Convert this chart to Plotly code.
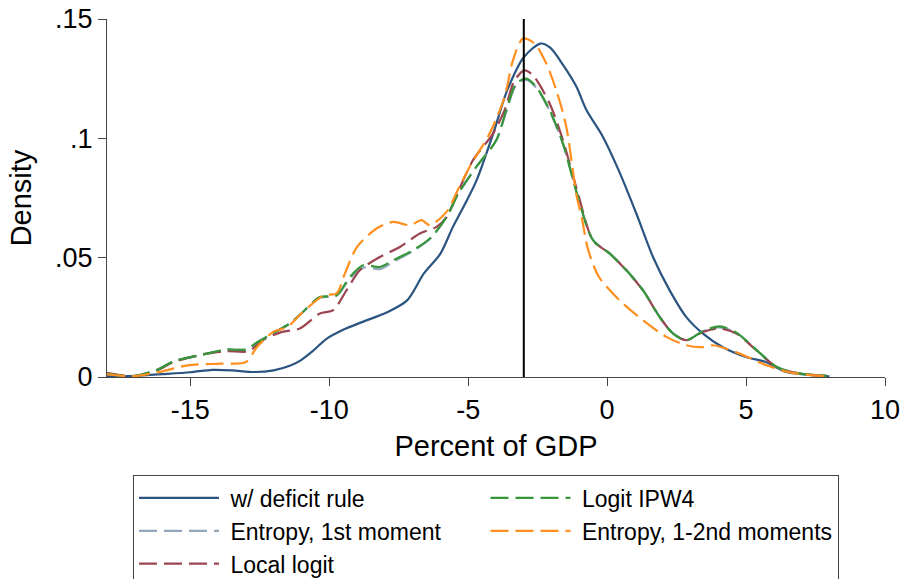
import plotly.graph_objects as go

# ---- data ----
ref_line_x = -3

blue_x = [-18, -17, -16, -15, -14.2, -13.5, -12.7, -12.0, -11.4, -11.0, -10.6, -10.1, -9.5, -8.8, -7.9, -7.2,
          -6.6, -6.0, -5.55, -5.05, -4.7, -4.1, -3.6, -3.0, -2.4, -2.05, -1.6, -1.1, -0.75, -0.15, 0.4, 1.05,
          1.65, 2.25, 2.85, 3.45, 4.15, 5.0, 5.7, 6.45, 7.4, 8.0]
blue_y = [0.0003, 0.0005, 0.0012, 0.002, 0.003, 0.0028, 0.0021, 0.0028, 0.0048, 0.0072, 0.0108, 0.0160, 0.0198,
          0.0231, 0.0272, 0.0321, 0.0433, 0.0517, 0.0629, 0.074, 0.0824, 0.102, 0.120, 0.134, 0.1397, 0.138,
          0.131, 0.1215, 0.112, 0.1006, 0.087, 0.0685, 0.0503, 0.0363, 0.0251, 0.0182, 0.0126, 0.0084, 0.0063,
          0.0021, 0.0007, 0.0003]

grey_x = [-18, -17.1, -16.2, -15.6, -14.4, -13.7, -13.0, -12.6, -12.0, -11.42, -11.06, -10.34, -9.74, -9.26,
          -8.78, -8.18, -7.7, -6.99, -6.38, -5.78, -5.35, -4.71, -3.99, -3.63, -3.27, -2.91, -2.55, -2.07,
          -1.59, -1.05, -0.51, 0.09, 0.69, 1.29, 1.89, 2.37, 2.85, 3.45, 4.05, 4.65, 5.37, 6.09, 6.8, 7.9]
grey_y = [0.0014, 0.0003, 0.003, 0.0066, 0.0098, 0.0115, 0.0115, 0.0145, 0.0185, 0.0224, 0.026, 0.0332,
          0.034, 0.0412, 0.0458, 0.0452, 0.0482, 0.0528, 0.0578, 0.067, 0.077, 0.088, 0.0992, 0.1112, 0.1225,
          0.1245, 0.1212, 0.1115, 0.0978, 0.0754, 0.0575, 0.0519, 0.0449, 0.0365, 0.0253, 0.0184, 0.0155,
          0.0192, 0.0208, 0.0185, 0.0113, 0.0043, 0.0017, 0.0005]

red_x = [-18, -17.1, -16.2, -15.6, -14.4, -13.7, -12.9, -12.4, -11.7, -11.06, -10.34, -9.86, -9.38, -8.9,
         -8.18, -7.46, -6.74, -6.14, -5.78, -5.35, -4.83, -4.11, -3.69, -3.33, -2.97, -2.67, -2.07, -1.59,
         -1.05, -0.51, 0.09, 0.69, 1.29, 1.89, 2.37, 2.85, 3.45, 4.05, 4.65, 5.37, 6.09, 6.8, 7.9]
red_y = [0.0017, 0.0003, 0.0028, 0.0063, 0.0098, 0.0108, 0.0108, 0.0154, 0.0189, 0.0203, 0.0266, 0.028,
         0.0363, 0.0447, 0.0503, 0.0545, 0.0601, 0.0629, 0.067, 0.078, 0.0908, 0.102, 0.1118, 0.1243, 0.1285,
         0.1264, 0.1146, 0.0992, 0.0769, 0.0573, 0.0517, 0.0447, 0.0363, 0.0251, 0.0182, 0.0154, 0.0189,
         0.0203, 0.0182, 0.0112, 0.0042, 0.0017, 0.0005]

green_x = [-18, -17.1, -16.2, -15.6, -14.4, -13.7, -13.0, -12.6, -12.0, -11.42, -11.06, -10.34, -9.74, -9.26,
           -8.78, -8.18, -7.7, -6.99, -6.38, -5.78, -5.35, -4.71, -3.99, -3.63, -3.27, -2.91, -2.55, -2.07,
           -1.59, -1.05, -0.51, 0.09, 0.69, 1.29, 1.89, 2.37, 2.85, 3.45, 4.05, 4.65, 5.37, 6.09, 6.8, 7.9]
green_y = [0.0014, 0.0003, 0.003, 0.0066, 0.0098, 0.0115, 0.0115, 0.0145, 0.0185, 0.0224, 0.026, 0.0335,
           0.0342, 0.0419, 0.0468, 0.0461, 0.0489, 0.0531, 0.058, 0.067, 0.077, 0.088, 0.0992, 0.1118, 0.123,
           0.125, 0.1215, 0.1118, 0.0978, 0.0754, 0.0573, 0.0517, 0.0447, 0.0363, 0.0251, 0.0182, 0.0154,
           0.0192, 0.0212, 0.0186, 0.0114, 0.0043, 0.0017, 0.0005]

orange_x = [-18, -17.1, -16.1, -15.1, -13.9, -13.0, -12.6, -12.0, -11.5, -11.06, -10.2, -9.74, -9.44, -9.0,
            -8.3, -7.7, -7.1, -6.68, -6.38, -5.78, -5.35, -4.95, -4.23, -3.69, -3.39, -3.03, -2.61, -2.19,
            -1.83, -1.47, -1.1, -0.9, -0.7, -0.3, 0.45, 1.29, 2.13, 2.85, 3.4, 3.81, 4.77, 5.73, 6.68, 7.9]
orange_y = [0.0012, 0.0003, 0.0021, 0.0049, 0.0056, 0.0063, 0.0126, 0.019, 0.021, 0.026, 0.0342, 0.035,
            0.0433, 0.0545, 0.0622, 0.065, 0.0636, 0.0657, 0.0636, 0.0692, 0.079, 0.088, 0.102, 0.1174, 0.1327,
            0.1418, 0.1397, 0.1313, 0.1202, 0.1048, 0.076, 0.066, 0.054, 0.042, 0.0321, 0.0238, 0.0168, 0.0133,
            0.0125, 0.0133, 0.0098, 0.0049, 0.0017, 0.0003]

x_ticks = [-15, -10, -5, 0, 5, 10]
x_ticktext = ["-15", "-10", "-5", "0", "5", "10"]
y_ticks = [0, 0.05, 0.1, 0.15]
y_ticktext = ["0", ".05", ".1", ".15"]

FONT = "Liberation Sans, Arial, sans-serif"
DASH = "18px,7px"
NB = "\u00a0"

series = [
    # (name, x, y, color, dash, legendrank)  drawn in this order
    ("w/ deficit rule", blue_x, blue_y, "#2b5580", "solid", 1),
    ("Entropy, 1st moment", grey_x, grey_y, "#93a6bb", DASH, 3),
    ("Local logit", red_x, red_y, "#9a4550", DASH, 5),
    ("Logit IPW4", green_x, green_y, "#36973a", DASH, 2),
    ("Entropy, 1-2nd moments", orange_x, orange_y, "#ff8f1f", DASH, 4),
]

fig = go.Figure()
for name, xs, ys, col, dash, rank in series:
    fig.add_trace(go.Scatter(
        x=xs, y=ys, mode="lines", name=NB + name, legendrank=rank,
        line=dict(color=col, width=2.2, dash=dash, shape="spline", smoothing=0.8),
    ))

fig.add_shape(type="line", xref="x", yref="y", x0=ref_line_x, x1=ref_line_x, y0=0, y1=0.15,
              line=dict(color="black", width=2), layer="above")

fig.update_layout(
    width=905, height=579,
    margin=dict(l=107, r=20, t=19, b=202, autoexpand=False),
    paper_bgcolor="white", plot_bgcolor="white",
    font=dict(family=FONT, color="black", size=23),
    showlegend=True,
    legend=dict(
        orientation="h", x=0.0334, xanchor="left", y=-0.275, yanchor="top",
        bordercolor="#444444", borderwidth=1, bgcolor="white",
        font=dict(family=FONT, size=23, color="black"),
        itemwidth=80, traceorder="normal",
    ),
    xaxis=dict(
        range=[-18, 10], tickvals=x_ticks, ticktext=x_ticktext, ticks="outside", ticklen=8, tickwidth=1.3,
        tickcolor="#444444", showline=True, linecolor="#444444", linewidth=1.3,
        showgrid=False, zeroline=False, tickfont=dict(size=27),
        title=dict(text="Percent of GDP", font=dict(size=29), standoff=12),
    ),
    yaxis=dict(
        range=[0, 0.15], tickvals=y_ticks, ticktext=y_ticktext, ticks="outside", ticklen=8,
        tickwidth=1.3, tickcolor="#444444", showline=True, linecolor="#444444", linewidth=1.3,
        showgrid=False, zeroline=False, tickfont=dict(size=27),
        title=dict(text="Density", font=dict(size=29), standoff=14),
    ),
)

fig.write_html("out.html")
